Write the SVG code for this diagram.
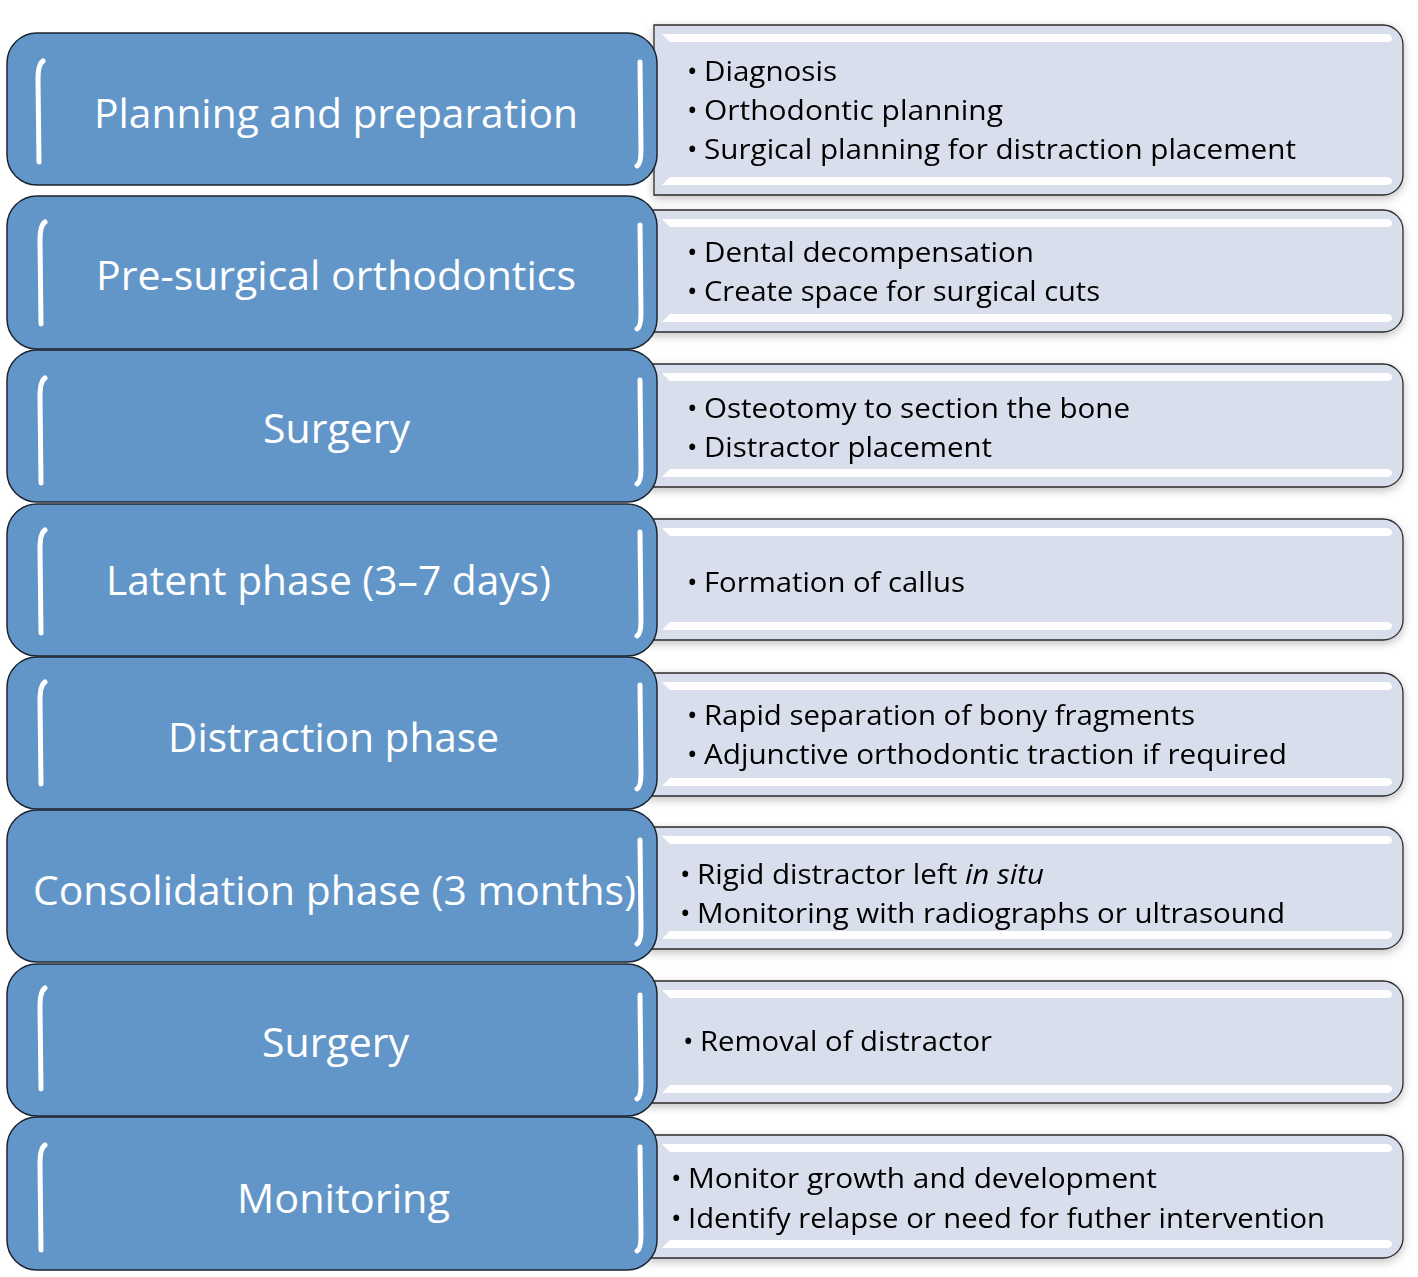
<svg xmlns="http://www.w3.org/2000/svg" width="1418" height="1277" viewBox="0 0 1418 1277">
<defs>
<filter id="sh" x="-5%" y="-20%" width="110%" height="140%">
<feGaussianBlur in="SourceAlpha" stdDeviation="5"/>
<feOffset dx="0" dy="3" result="b"/>
<feComponentTransfer><feFuncA type="linear" slope="0.25"/></feComponentTransfer>
<feMerge><feMergeNode/><feMergeNode in="SourceGraphic"/></feMerge>
</filter>
</defs>
<style>
.card{fill:#D8DEEB;stroke:#2b2b2b;stroke-width:1.3}
.hl{fill:#FFFFFF}
.step{fill:#6296C8;stroke:#1c2430;stroke-width:1.5}
.br{fill:none;stroke:#FFFFFF;stroke-width:5;stroke-linecap:round}
.lt{font-family:"Open Sans","Noto Sans",sans-serif;font-size:41px;fill:#FFFFFF}
.rt{font-family:"Open Sans","Noto Sans",sans-serif;font-size:28px;fill:#000000}
</style>
<rect width="1418" height="1277" fill="#FFFFFF"/>

<!-- detail cards -->
<g id="card1" filter="url(#sh)">
<path class="card" d="M654,25 H1383 A20,20 0 0 1 1403,45 V175 A20,20 0 0 1 1383,195 H654 Z"/>
<path class="hl" d="M662,34 H1386 Q1392,34 1392,39 Q1392,42 1386,42 H670 Z"/>
<path class="hl" d="M670,177 H1386 Q1392,177 1392,181 Q1392,185 1386,185 H662 Z"/>
<text class="rt" x="687" y="81">•</text><text class="rt" x="704" y="81" textLength="133" lengthAdjust="spacingAndGlyphs">Diagnosis</text>
<text class="rt" x="687" y="120">•</text><text class="rt" x="704" y="120" textLength="299" lengthAdjust="spacingAndGlyphs">Orthodontic planning</text>
<text class="rt" x="687" y="159">•</text><text class="rt" x="704" y="159" textLength="592" lengthAdjust="spacingAndGlyphs">Surgical planning for distraction placement</text>
</g>
<g id="card2" filter="url(#sh)">
<path class="card" d="M645,210 H1383 A20,20 0 0 1 1403,230 V312 A20,20 0 0 1 1383,332 H645 Z"/>
<path class="hl" d="M662,219 H1386 Q1392,219 1392,224 Q1392,227 1386,227 H670 Z"/>
<path class="hl" d="M670,314 H1386 Q1392,314 1392,318 Q1392,322 1386,322 H662 Z"/>
<text class="rt" x="687" y="262">•</text><text class="rt" x="704" y="262" textLength="330" lengthAdjust="spacingAndGlyphs">Dental decompensation</text>
<text class="rt" x="687" y="301">•</text><text class="rt" x="704" y="301" textLength="396" lengthAdjust="spacingAndGlyphs">Create space for surgical cuts</text>
</g>
<g id="card3" filter="url(#sh)">
<path class="card" d="M645,364 H1383 A20,20 0 0 1 1403,384 V467 A20,20 0 0 1 1383,487 H645 Z"/>
<path class="hl" d="M662,373 H1386 Q1392,373 1392,378 Q1392,381 1386,381 H670 Z"/>
<path class="hl" d="M670,469 H1386 Q1392,469 1392,473 Q1392,477 1386,477 H662 Z"/>
<text class="rt" x="687" y="418">•</text><text class="rt" x="704" y="418" textLength="426" lengthAdjust="spacingAndGlyphs">Osteotomy to section the bone</text>
<text class="rt" x="687" y="457">•</text><text class="rt" x="704" y="457" textLength="288" lengthAdjust="spacingAndGlyphs">Distractor placement</text>
</g>
<g id="card4" filter="url(#sh)">
<path class="card" d="M645,519 H1383 A20,20 0 0 1 1403,539 V620 A20,20 0 0 1 1383,640 H645 Z"/>
<path class="hl" d="M662,528 H1386 Q1392,528 1392,533 Q1392,536 1386,536 H670 Z"/>
<path class="hl" d="M670,622 H1386 Q1392,622 1392,626 Q1392,630 1386,630 H662 Z"/>
<text class="rt" x="687" y="592">•</text><text class="rt" x="704" y="592" textLength="261" lengthAdjust="spacingAndGlyphs">Formation of callus</text>
</g>
<g id="card5" filter="url(#sh)">
<path class="card" d="M645,673 H1383 A20,20 0 0 1 1403,693 V776 A20,20 0 0 1 1383,796 H645 Z"/>
<path class="hl" d="M662,682 H1386 Q1392,682 1392,687 Q1392,690 1386,690 H670 Z"/>
<path class="hl" d="M670,778 H1386 Q1392,778 1392,782 Q1392,786 1386,786 H662 Z"/>
<text class="rt" x="687" y="725">•</text><text class="rt" x="704" y="725" textLength="491" lengthAdjust="spacingAndGlyphs">Rapid separation of bony fragments</text>
<text class="rt" x="687" y="764">•</text><text class="rt" x="704" y="764" textLength="583" lengthAdjust="spacingAndGlyphs">Adjunctive orthodontic traction if required</text>
</g>
<g id="card6" filter="url(#sh)">
<path class="card" d="M645,827 H1383 A20,20 0 0 1 1403,847 V929 A20,20 0 0 1 1383,949 H645 Z"/>
<path class="hl" d="M662,836 H1386 Q1392,836 1392,841 Q1392,844 1386,844 H670 Z"/>
<path class="hl" d="M670,931 H1386 Q1392,931 1392,935 Q1392,939 1386,939 H662 Z"/>
<text class="rt" x="680" y="884">•</text><text class="rt" x="697" y="884" textLength="347" lengthAdjust="spacingAndGlyphs">Rigid distractor left <tspan font-style="italic">in situ</tspan></text>
<text class="rt" x="680" y="923">•</text><text class="rt" x="697" y="923" textLength="588" lengthAdjust="spacingAndGlyphs">Monitoring with radiographs or ultrasound</text>
</g>
<g id="card7" filter="url(#sh)">
<path class="card" d="M645,981 H1383 A20,20 0 0 1 1403,1001 V1083 A20,20 0 0 1 1383,1103 H645 Z"/>
<path class="hl" d="M662,990 H1386 Q1392,990 1392,995 Q1392,998 1386,998 H670 Z"/>
<path class="hl" d="M670,1085 H1386 Q1392,1085 1392,1089 Q1392,1093 1386,1093 H662 Z"/>
<text class="rt" x="683" y="1051">•</text><text class="rt" x="700" y="1051" textLength="292" lengthAdjust="spacingAndGlyphs">Removal of distractor</text>
</g>
<g id="card8" filter="url(#sh)">
<path class="card" d="M645,1135 H1383 A20,20 0 0 1 1403,1155 V1238 A20,20 0 0 1 1383,1258 H645 Z"/>
<path class="hl" d="M662,1144 H1386 Q1392,1144 1392,1149 Q1392,1152 1386,1152 H670 Z"/>
<path class="hl" d="M670,1240 H1386 Q1392,1240 1392,1244 Q1392,1248 1386,1248 H662 Z"/>
<text class="rt" x="671" y="1188">•</text><text class="rt" x="688" y="1188" textLength="469" lengthAdjust="spacingAndGlyphs">Monitor growth and development</text>
<text class="rt" x="671" y="1228">•</text><text class="rt" x="688" y="1228" textLength="637" lengthAdjust="spacingAndGlyphs">Identify relapse or need for futher intervention</text>
</g>

<!-- step boxes -->
<g id="step1">
<rect class="step" x="7" y="33" width="650" height="152" rx="30"/>
<path class="br" d="M43,61 Q38,64 38,80 L39,162"/>
<path class="br" d="M640,62 L641,150 Q641,164 637,166"/>
<text class="lt" x="94" y="128" textLength="484" lengthAdjust="spacingAndGlyphs">Planning and preparation</text>
</g>
<g id="step2">
<rect class="step" x="7" y="196" width="650" height="153" rx="30"/>
<path class="br" d="M45,222 Q40,225 40,241 L41,324"/>
<path class="br" d="M640,225 L641,313 Q641,327 637,329"/>
<text class="lt" x="96" y="290" textLength="480" lengthAdjust="spacingAndGlyphs">Pre-surgical orthodontics</text>
</g>
<g id="step3">
<rect class="step" x="7" y="350" width="650" height="152" rx="30"/>
<path class="br" d="M45,378 Q40,381 40,397 L41,483"/>
<path class="br" d="M640,380 L641,468 Q641,482 637,484"/>
<text class="lt" x="263" y="443" textLength="147" lengthAdjust="spacingAndGlyphs">Surgery</text>
</g>
<g id="step4">
<rect class="step" x="7" y="504" width="650" height="152" rx="30"/>
<path class="br" d="M45,530 Q40,533 40,549 L41,633"/>
<path class="br" d="M640,532 L641,620 Q641,634 637,636"/>
<text class="lt" x="106" y="595" textLength="445" lengthAdjust="spacingAndGlyphs">Latent phase (3–7 days)</text>
</g>
<g id="step5">
<rect class="step" x="7" y="657" width="650" height="152" rx="30"/>
<path class="br" d="M45,682 Q40,685 40,701 L41,784"/>
<path class="br" d="M640,685 L641,773 Q641,787 637,789"/>
<text class="lt" x="168" y="752" textLength="331" lengthAdjust="spacingAndGlyphs">Distraction phase</text>
</g>
<g id="step6">
<rect class="step" x="7" y="810" width="650" height="152" rx="30"/>
<path class="br" d="M640,840 L641,928 Q641,942 637,944"/>
<text class="lt" x="33" y="905" textLength="603" lengthAdjust="spacingAndGlyphs">Consolidation phase (3 months)</text>
</g>
<g id="step7">
<rect class="step" x="7" y="964" width="650" height="152" rx="30"/>
<path class="br" d="M45,988 Q40,991 40,1007 L41,1089"/>
<path class="br" d="M640,995 L641,1083 Q641,1097 637,1099"/>
<text class="lt" x="262" y="1057" textLength="147" lengthAdjust="spacingAndGlyphs">Surgery</text>
</g>
<g id="step8">
<rect class="step" x="7" y="1117" width="650" height="153" rx="30"/>
<path class="br" d="M45,1145 Q40,1148 40,1164 L41,1250"/>
<path class="br" d="M640,1147 L641,1235 Q641,1249 637,1251"/>
<text class="lt" x="237" y="1213" textLength="213" lengthAdjust="spacingAndGlyphs">Monitoring</text>
</g>

<g id="connectors"></g>
</svg>
